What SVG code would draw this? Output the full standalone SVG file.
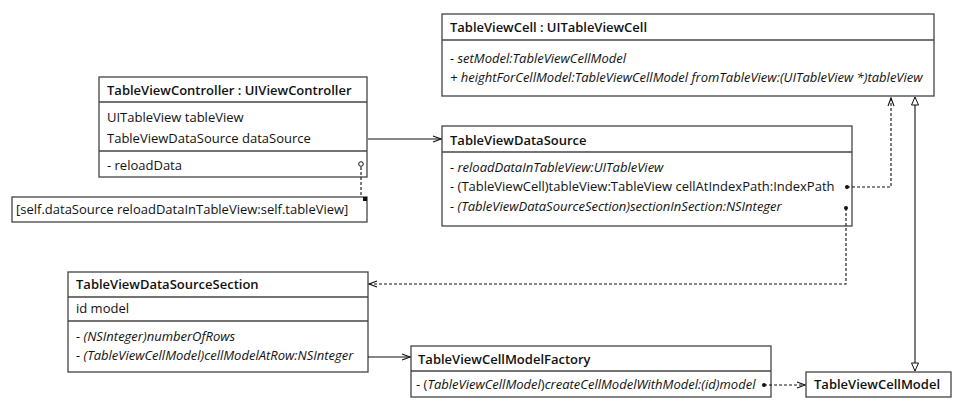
<svg xmlns="http://www.w3.org/2000/svg" width="965" height="411" viewBox="0 0 965 411">
<style>
text{font-family:"Open Sans","Noto Sans","Liberation Sans",sans-serif;font-size:13px;fill:#111}
.h{font-weight:600}
.i{font-style:italic}
.box{fill:#fff;stroke:#444;stroke-width:1.3}
.sep{stroke:#444;stroke-width:1.3}
.c{fill:none;stroke:#111;stroke-width:1.1}
.d{fill:none;stroke:#111;stroke-width:1.1;stroke-dasharray:3,2}
</style>
<defs>
<marker id="open" markerWidth="10" markerHeight="10" refX="9" refY="5" orient="auto" markerUnits="userSpaceOnUse">
<path d="M1,2 L9,5 L1,8" fill="none" stroke="#111" stroke-width="1.1"/>
</marker>
<marker id="tri" markerWidth="10" markerHeight="12" refX="9" refY="5" orient="auto-start-reverse" markerUnits="userSpaceOnUse">
<path d="M1,1.5 L9,5 L1,8.5 Z" fill="#fff" stroke="#111" stroke-width="1"/>
</marker>
</defs>

<g id="TableViewCell">
<rect class="box" x="442" y="14" width="492" height="82"/>
<line class="sep" x1="442" y1="40" x2="934" y2="40"/>
<text class="h" x="450" y="32" textLength="197" lengthAdjust="spacing">TableViewCell : UITableViewCell</text>
<text class="i" x="450" y="63">- setModel:TableViewCellModel</text>
<text class="i" x="450" y="82">+ heightForCellModel:TableViewCellModel fromTableView:(UITableView *)tableView</text>
</g>

<g id="TableViewController">
<rect class="box" x="99" y="77" width="268" height="100"/>
<line class="sep" x1="99" y1="102" x2="367" y2="102"/>
<line class="sep" x1="99" y1="151" x2="367" y2="151"/>
<text class="h" x="107" y="95">TableViewController : UIViewController</text>
<text x="107" y="122">UITableView tableView</text>
<text x="107" y="143">TableViewDataSource dataSource</text>
<text x="107" y="170">- reloadData</text>
</g>

<g id="note">
<rect class="box" x="12" y="197" width="355" height="25"/>
<rect x="363" y="197" width="4" height="4" fill="#111"/>
<text x="16" y="214">[self.dataSource reloadDataInTableView:self.tableView]</text>
</g>

<g id="TableViewDataSource">
<rect class="box" x="442" y="126" width="410" height="100"/>
<line class="sep" x1="442" y1="152" x2="852" y2="152"/>
<text class="h" x="450" y="145">TableViewDataSource</text>
<text class="i" x="450" y="172">- reloadDataInTableView:UITableView</text>
<text x="450" y="191">- (TableViewCell)tableView:TableView cellAtIndexPath:IndexPath</text>
<text class="i" x="450" y="211">- (TableViewDataSourceSection)sectionInSection:NSInteger</text>
</g>

<g id="TableViewDataSourceSection">
<rect class="box" x="68" y="272" width="300" height="100"/>
<line class="sep" x1="68" y1="297" x2="368" y2="297"/>
<line class="sep" x1="68" y1="321" x2="368" y2="321"/>
<text class="h" x="76" y="289">TableViewDataSourceSection</text>
<text x="76" y="313">id model</text>
<text class="i" x="76" y="341">- (NSInteger)numberOfRows</text>
<text class="i" x="76" y="360">- (TableViewCellModel)cellModelAtRow:NSInteger</text>
</g>

<g id="TableViewCellModelFactory">
<rect class="box" x="411" y="346" width="360" height="51"/>
<line class="sep" x1="411" y1="371" x2="771" y2="371"/>
<text class="h" x="418" y="364">TableViewCellModelFactory</text>
<text x="416" y="389">- (<tspan class="i">TableViewCellModel</tspan>)<tspan class="i">createCellModelWithModel:(id)model</tspan></text>
</g>

<g id="TableViewCellModel">
<rect class="box" x="806" y="372" width="145" height="25"/>
<text class="h" x="814" y="389">TableViewCellModel</text>
</g>

<g id="connectors">
<line class="c" x1="368" y1="139" x2="441" y2="139" marker-end="url(#open)"/>
<path class="d" d="M847,187 H891 V98" marker-end="url(#open)"/>
<path class="d" d="M846,208 V284 H369" marker-end="url(#open)"/>
<line class="c" x1="368" y1="357" x2="410" y2="357" marker-end="url(#open)"/>
<path class="d" d="M764,385 H805" marker-end="url(#open)"/>
<line class="c" x1="915" y1="97" x2="915" y2="371" marker-start="url(#tri)" marker-end="url(#tri)"/>
<path class="d" d="M361,167 V197"/>
<circle cx="847" cy="187" r="2" fill="#111"/>
<circle cx="846" cy="208" r="2" fill="#111"/>
<circle cx="764" cy="385" r="2" fill="#111"/>
<circle cx="361" cy="164" r="2.3" fill="#fff" stroke="#111" stroke-width="1"/>
</g>
</svg>
